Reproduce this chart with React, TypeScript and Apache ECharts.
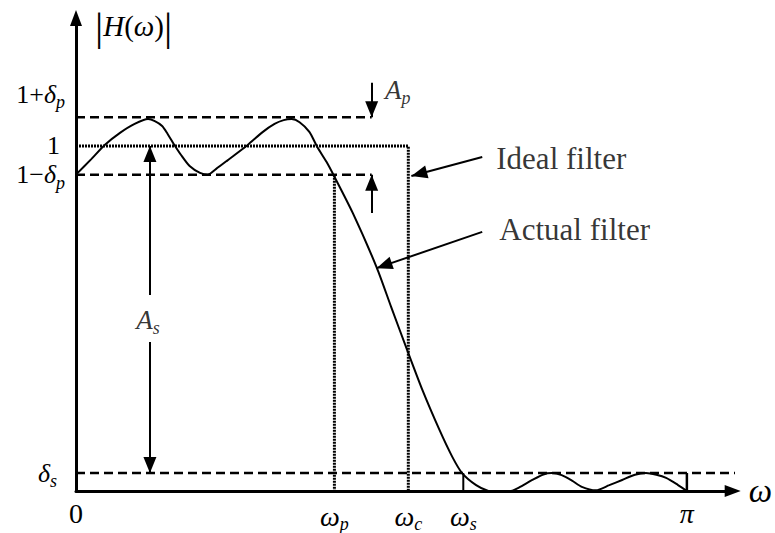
import React, { useEffect, useRef } from "react";
import * as echarts from "echarts";

const SERIF = '"Liberation Serif", "Times New Roman", Times, serif';

// Frequency axis in units of pi (0 .. 1 = 0 .. pi), magnitude axis |H(w)|
const curveX = [
  0, 0.025, 0.047, 0.072, 0.096, 0.118, 0.129, 0.141, 0.15, 0.16, 0.172, 0.186, 0.203, 0.216, 0.229, 0.247,
  0.281, 0.306, 0.325, 0.34, 0.353, 0.366, 0.382, 0.395, 0.41, 0.423, 0.453, 0.492, 0.516, 0.542, 0.567,
  0.595, 0.616, 0.632, 0.655, 0.675, 0.693, 0.712, 0.725, 0.747, 0.765, 0.779, 0.795, 0.812, 0.828, 0.851,
  0.873, 0.894, 0.915, 0.933, 0.95, 0.966, 0.985, 1.0,
];
const curveY = [
  0.917, 0.962, 1.003, 1.038, 1.064, 1.078, 1.072, 1.058, 1.035, 1.006, 0.974, 0.942, 0.922, 0.917, 0.933, 0.957,
  1.003, 1.041, 1.064, 1.075, 1.078, 1.069, 1.041, 0.997, 0.954, 0.911, 0.806, 0.649, 0.533, 0.409, 0.293,
  0.177, 0.099, 0.052, 0.017, 0.0, -0.005, 0.0, 0.01, 0.032, 0.048, 0.052, 0.046, 0.03, 0.012, 0.002,
  0.017, 0.032, 0.047, 0.052, 0.047, 0.038, 0.018, 0.0,
];

const yTickValues = [0.052, 0.917, 1, 1.083];
const yTickLabels = ["{i|δ}{sub|s}{gap8|}", "{n|1−}{i|δ}{sub|p}", "{n|1}{gap5|}", "{nu|1+}{iu|δ}{subu|p}"];
const xTickValues = [0, 0.423, 0.544, 0.634, 1];
const xTickLabels = ["{z|0}", "{w|ω}{sub|p}", "{w|ω}{sub|c}", "{w|ω}{sub|s}", "{w|π}"];

// Specification lines
const passUpper = [[0, 1.083], [0.484, 1.083]];
const passLower = [[0, 0.917], [0.484, 0.917]];
const stopLevel = [[0, 0.052], [1.085, 0.052]];
const idealFilter = [[0, 1], [0.544, 1], [0.544, 0]];
const passEdge = [[0.423, 0.917], [0.423, 0]];
const stopEdge = [[0.634, 0.052], [0.634, 0]];
const piEdge = [[1, 0.052], [1, 0]];

// Annotation arrows: tail -> tip
const arrowFrom = [[0.484, 1.183], [0.484, 0.806], [0.121, 0.568], [0.121, 0.432], [0.665, 0.968], [0.665, 0.751]];
const arrowTo = [[0.484, 1.083], [0.484, 0.917], [0.121, 1.0], [0.121, 0.052], [0.549, 0.913], [0.492, 0.646]];

// Annotation texts
const annotationLabels = ["{t|Ideal filter}", "{t|Actual filter}", "{a|A}{sub|p}", "{a|A}{sub|s}"];
const annotationX = [0.688, 0.693, 0.506, 0.118];
const annotationY = [0.965, 0.757, 1.162, 0.496];
const annotationPos = ["right", "right", "right", "inside"];

const rich: any = {
  n: { fontFamily: SERIF, fontSize: 26, color: "#000" },
  z: { fontFamily: SERIF, fontSize: 28, color: "#000" },
  i: { fontFamily: SERIF, fontSize: 26, fontStyle: "italic", color: "#000" },
  w: { fontFamily: SERIF, fontSize: 28, fontStyle: "italic", color: "#000" },
  a: { fontFamily: SERIF, fontSize: 27, fontStyle: "italic", color: "#000" },
  sub: { fontFamily: SERIF, fontSize: 18, fontStyle: "italic", color: "#000", padding: [16, 0, 0, 0] },
  nu: { fontFamily: SERIF, fontSize: 26, color: "#000", padding: [0, 0, 46, 0] },
  iu: { fontFamily: SERIF, fontSize: 26, fontStyle: "italic", color: "#000", padding: [0, 0, 46, 0] },
  subu: { fontFamily: SERIF, fontSize: 18, fontStyle: "italic", color: "#000", padding: [16, 0, 46, 0] },
  gap5: { width: 5 },
  gap8: { width: 8 },
  t: { fontFamily: SERIF, fontSize: 31, color: "#000" },
  bar: { fontFamily: SERIF, fontSize: 41, color: "#000" },
  h: { fontFamily: SERIF, fontSize: 29, fontStyle: "italic", color: "#000" },
  hp: { fontFamily: SERIF, fontSize: 29, color: "#000" },
};

const findLabel = (vals: number[], labels: string[], v: number) => {
  const i = vals.findIndex((t) => Math.abs(t - v) < 1e-6);
  return i >= 0 ? labels[i] : "";
};

const lineSeries = (data: number[][], type: any, width: number, clip = true) => ({
  type: "line",
  data,
  symbol: "none",
  silent: true,
  clip,
  lineStyle: { color: "#000", width, type },
  z: 2,
});

export default function App() {
  const ref = useRef<HTMLDivElement>(null);
  useEffect(() => {
    if (!ref.current) return;
    const chart = echarts.init(ref.current, null, { renderer: "svg" });
    const option: any = {
      animation: false,
      backgroundColor: "#fff",
      grid: { left: 76, right: 41, top: 18, bottom: 42 },
      xAxis: {
        type: "value",
        min: 0,
        max: 1.075,
        axisLine: {
          show: true,
          lineStyle: { color: "#000", width: 3 },
          symbol: ["none", "triangle"],
          symbolSize: [12, 16],
        },
        axisTick: { show: false },
        splitLine: { show: false },
        axisLabel: {
          customValues: xTickValues,
          formatter: (v: number) => findLabel(xTickValues, xTickLabels, v),
          margin: 8,
          rich,
        },
        name: "ω",
        nameLocation: "end",
        nameGap: 16,
        nameTextStyle: { fontFamily: SERIF, fontSize: 33, fontStyle: "italic", color: "#000", verticalAlign: "middle" },
      },
      yAxis: {
        type: "value",
        min: 0,
        max: 1.371,
        axisLine: {
          show: true,
          lineStyle: { color: "#000", width: 3 },
          symbol: ["none", "triangle"],
          symbolSize: [12, 16],
        },
        axisTick: { show: false },
        splitLine: { show: false },
        axisLabel: {
          customValues: yTickValues,
          formatter: (v: number) => findLabel(yTickValues, yTickLabels, v),
          margin: 11,
          rich,
        },
        name: "{bar||}{h|H}{hp|(}{h|ω}{hp|)}{bar||}",
        nameLocation: "end",
        nameGap: -8,
        nameTextStyle: { align: "left", verticalAlign: "middle", padding: [0, 0, 0, 19], rich },
      },
      series: [
        lineSeries(passUpper, [9, 5], 2.5),
        lineSeries(passLower, [9, 5], 2.5),
        lineSeries(stopLevel, [9, 5], 2.5, false),
        lineSeries(idealFilter, [2, 1], 3),
        lineSeries(passEdge, [2, 1], 3),
        lineSeries(stopEdge, "solid", 2),
        lineSeries(piEdge, "solid", 2.5),
        {
          type: "line",
          data: curveX.map((x, i) => [x, curveY[i]]),
          smooth: 0.25,
          symbol: "none",
          silent: true,
          lineStyle: { color: "#000", width: 2 },
          z: 3,
          markLine: {
            silent: true,
            symbol: "none",
            label: { show: false },
            lineStyle: { color: "#000", width: 2, type: "solid" },
            emphasis: { disabled: true },
            data: arrowFrom.map((f, i) => [
              { coord: f, symbol: "none" },
              { coord: arrowTo[i], symbol: "triangle", symbolSize: [13, 16], symbolOffset: [0, 8] },
            ]),
          },
        },
        {
          type: "scatter",
          symbolSize: 0,
          silent: true,
          data: annotationLabels.map((t, i) => ({
            value: [annotationX[i], annotationY[i]],
            label: {
              show: true,
              position: annotationPos[i],
              distance: 0,
              formatter: t,
              rich,
            },
          })),
          z: 4,
        },
      ],
    };
    chart.setOption(option);
    return () => chart.dispose();
  }, []);
  return (
    <div
      ref={ref}
      style={{ position: "absolute", left: 0, top: 0, width: 775, height: 533, background: "#fff" }}
    />
  );
}
